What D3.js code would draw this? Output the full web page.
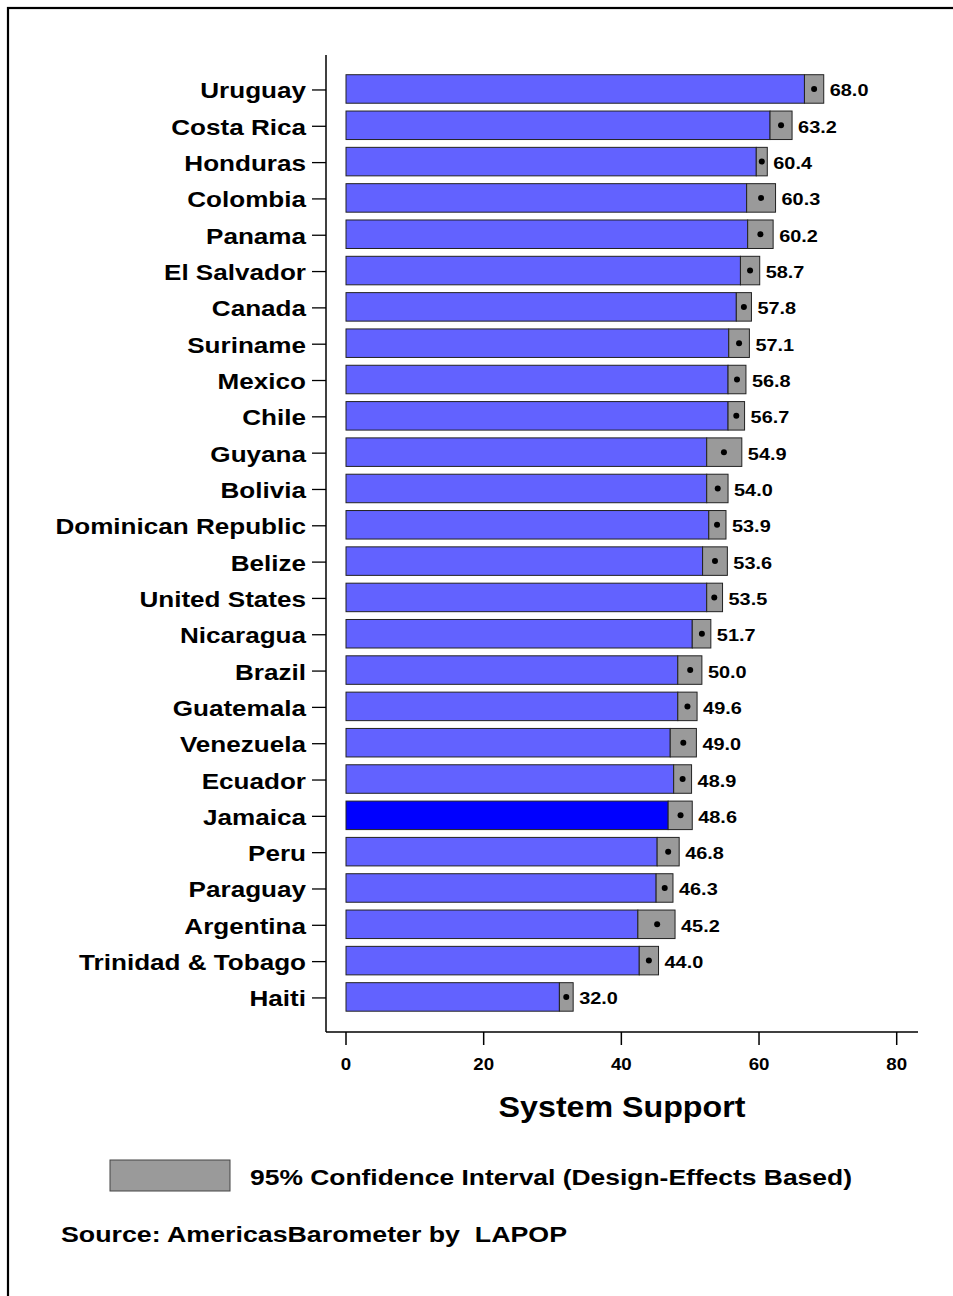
<!DOCTYPE html>
<html>
<head>
<meta charset="utf-8">
<script src="https://cdn.jsdelivr.net/npm/d3@7"></script>
<style>
  html, body { margin: 0; padding: 0; background: #fff; }
  svg text { font-family: "Liberation Sans", Arial, Helvetica, sans-serif; font-weight: bold; fill: #000; }
</style>
</head>
<body>
<svg id="chart" width="953" height="1296"></svg>
<script>
const countries = ["Uruguay","Costa Rica","Honduras","Colombia","Panama","El Salvador","Canada","Suriname","Mexico","Chile","Guyana","Bolivia","Dominican Republic","Belize","United States","Nicaragua","Brazil","Guatemala","Venezuela","Ecuador","Jamaica","Peru","Paraguay","Argentina","Trinidad & Tobago","Haiti"];
const means  = [68.0,63.2,60.4,60.3,60.2,58.7,57.8,57.1,56.8,56.7,54.9,54.0,53.9,53.6,53.5,51.7,50.0,49.6,49.0,48.9,48.6,46.8,46.3,45.2,44.0,32.0];
const ciLow  = [66.6,61.6,59.6,58.2,58.35,57.3,56.7,55.6,55.5,55.5,52.4,52.4,52.7,51.8,52.4,50.3,48.2,48.2,47.1,47.6,46.8,45.2,45.05,42.4,42.6,31.0];
const ciHigh = [69.4,64.8,61.2,62.4,62.05,60.1,58.9,58.6,58.1,57.9,57.5,55.5,55.2,55.4,54.7,53.0,51.7,51.0,50.9,50.2,50.3,48.4,47.5,47.8,45.4,33.0];
const highlight = "Jamaica";
const xTicks = [0,20,40,60,80];
const xTitle = "System Support";
const legendLabel = "95% Confidence Interval (Design-Effects Based)";
const sourceLabel = "Source: AmericasBarometer by  LAPOP";

const svg = d3.select("#chart");
const SX = 1.18;

function stretchedText(g, x, y, txt, size, anchor, sx) {
  return g.append("text")
    .attr("transform", `translate(${x},${y}) scale(${sx || SX},1)`)
    .attr("text-anchor", anchor || "start")
    .attr("font-size", size)
    .attr("xml:space", "preserve")
    .style("white-space", "pre")
    .text(txt);
}

// outer frame
svg.append("rect").attr("x", 8).attr("y", 8).attr("width", 1000).attr("height", 1400)
  .attr("fill", "none").attr("stroke", "#000").attr("stroke-width", 2.2);

const data = countries.map((c, i) => ({ c, m: means[i], lo: ciLow[i], hi: ciHigh[i] }));

const x = d3.scaleLinear().domain([0, 80]).range([346, 896.7]);
const y = d3.scaleBand().domain(countries).range([66.9, 1019.0]).paddingInner(0.215).paddingOuter(0.215);

const axisY = 1032, axisX = 326;

// axes lines
svg.append("line").attr("x1", axisX).attr("x2", axisX).attr("y1", 55).attr("y2", axisY)
  .attr("stroke", "#000").attr("stroke-width", 1.5);
svg.append("line").attr("x1", axisX).attr("x2", 918).attr("y1", axisY).attr("y2", axisY)
  .attr("stroke", "#000").attr("stroke-width", 1.5);

// x ticks
const xg = svg.append("g");
xTicks.forEach(t => {
  xg.append("line").attr("x1", x(t)).attr("x2", x(t)).attr("y1", axisY).attr("y2", axisY + 13)
    .attr("stroke", "#000").attr("stroke-width", 1.5);
  stretchedText(xg, x(t), 1070, String(t), 17, "middle", 1.1);
});

// y ticks + labels
const yg = svg.append("g");
data.forEach(d => {
  const cy = y(d.c) + y.bandwidth() / 2;
  yg.append("line").attr("x1", 312).attr("x2", axisX).attr("y1", cy + 1).attr("y2", cy + 1)
    .attr("stroke", "#000").attr("stroke-width", 1.3);
  stretchedText(yg, 306, cy + 9.5, d.c, 22.3, "end", 1.17);
});

// bars
const bg = svg.append("g");
bg.selectAll("rect.bar").data(data).join("rect").attr("class", "bar")
  .attr("x", x(0)).attr("y", d => y(d.c))
  .attr("width", d => x(d.lo) - x(0)).attr("height", y.bandwidth())
  .attr("fill", d => d.c === highlight ? "#0000FF" : "#6262FF")
  .attr("stroke", "#222").attr("stroke-width", 1);
bg.selectAll("rect.ci").data(data).join("rect").attr("class", "ci")
  .attr("x", d => x(d.lo)).attr("y", d => y(d.c))
  .attr("width", d => x(d.hi) - x(d.lo)).attr("height", y.bandwidth())
  .attr("fill", "#9A9A9A").attr("stroke", "#222").attr("stroke-width", 1);
bg.selectAll("circle").data(data).join("circle")
  .attr("cx", d => x(d.m)).attr("cy", d => y(d.c) + y.bandwidth() / 2)
  .attr("r", 3).attr("fill", "#000");

// value labels
data.forEach(d => {
  stretchedText(bg, x(d.hi) + 6, y(d.c) + y.bandwidth() / 2 + 7.5, d.m.toFixed(1), 17, "start", 1.17);
});

// axis title
stretchedText(svg, 622, 1117, xTitle, 29, "middle", 1.11);

// legend
svg.append("rect").attr("x", 110).attr("y", 1160).attr("width", 120).attr("height", 31)
  .attr("fill", "#9A9A9A").attr("stroke", "#444").attr("stroke-width", 1);
stretchedText(svg, 250, 1185, legendLabel, 22.5, "start", 1.175);

// source
stretchedText(svg, 61, 1242, sourceLabel, 22.3, "start", 1.2);
</script>
</body>
</html>
